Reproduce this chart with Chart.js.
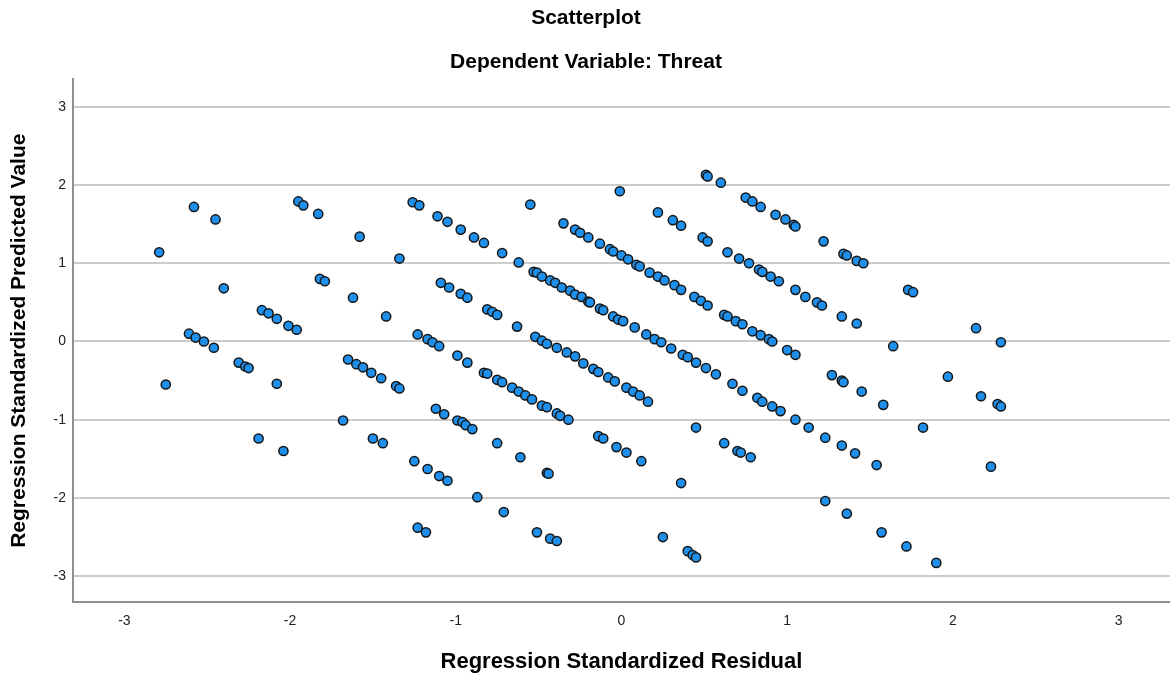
<!DOCTYPE html>
<html>
<head>
<meta charset="utf-8">
<title>Scatterplot</title>
<script src="https://cdn.jsdelivr.net/npm/chart.js@4.4.0/dist/chart.umd.min.js"></script>
<style>
  html, body { margin: 0; padding: 0; background: #fff; }
  #wrap { width: 1176px; height: 675px; }
</style>
</head>
<body>
<div id="wrap"><canvas id="scatter"></canvas></div>
<script>
// Regression Standardized Residual (x) / Predicted Value (y)
const residuals = [
  -2.79, -2.58, -2.45, -2.40, -2.61, -2.57, -2.52, -2.46, -2.17, -2.13,
  -2.08, -2.01, -1.96, -1.95, -1.92, -1.83, -1.82, -1.79, -1.62, -2.31,
  -2.27, -2.25, -2.75, -2.08, -1.68, -2.19, -2.04,
  -1.58, -1.34, -1.26, -1.22, -1.11, -1.05, -0.97, -0.89, -0.83, -0.72,
  -0.62, -0.55, -0.53, -0.51, -0.48, -0.43, -0.40, -0.36, -0.31, -0.28,
  -0.24, -0.20, -0.19, -0.13, -0.11, -0.05, -0.02, -0.35, -0.28, -0.25,
  -0.20, -0.13, -0.07, -0.05, -0.01, -1.42, -1.09, -1.04, -0.97, -0.93,
  -0.81, -0.78, -0.75, -0.63, -0.52, -0.48, -0.45, -0.39, -0.33, -0.28,
  -1.23, -1.17, -1.14, -1.10, -1.65, -0.99,
  -1.60, -1.56, -1.51, -1.45, -1.36, -1.34, -1.50, -1.44, -1.25, -1.17,
  -1.10, -1.05, -1.23, -1.18, -0.87, -0.71, -0.51, -0.43, -0.39, -1.12,
  -1.07, -0.99, -0.96, -0.94, -0.90, -0.75, -0.61, -0.45, -0.44, -0.93,
  -0.83, -0.81, -0.75, -0.72, -0.66, -0.62, -0.58, -0.54, -0.48, -0.45,
  -0.39, -0.37, -0.32, -0.23, -0.17, -0.14, -0.08, -0.04, -0.14, -0.11,
  -0.03,
  0.51, 0.52, 0.60, 0.22, 0.31, 0.36, 0.49, 0.52, 0.75, 0.79,
  0.84, 0.93, 0.99, 1.04, 1.05, 1.22, 1.34, 1.36, 1.42, 1.46,
  0.00, 0.04, 0.09, 0.11, 0.17, 0.22, 0.26, 0.32, 0.36, 0.44,
  0.48, 0.52, 0.62, 0.64, 0.69, 0.73, 0.79, 0.84, 0.89, 0.91,
  1.00, 1.05, 0.64, 0.71, 0.77, 0.83, 0.85, 0.90, 0.95, 1.05,
  1.11, 1.18, 1.21, 1.33, 1.42, 0.01, 0.08, 0.15, 0.20, 0.24,
  0.30, 0.37, 0.40,
  0.45, 0.51, 0.57, 0.03, 0.07, 0.11, 0.16, 1.27, 1.33, 1.34,
  1.45, 1.58, 0.67, 0.73, 0.82, 0.85, 0.91, 0.96, 1.05, 1.13,
  1.23, 1.33, 1.41, 1.54, 0.45, 0.03, 0.12, 0.36, 0.62, 0.70,
  0.72, 0.78, 0.25, 0.40, 0.43, 0.45, 1.23, 1.36, 1.57,
  1.73, 1.76, 2.14, 1.64, 2.29, 1.97, 2.17, 2.27, 2.29, 1.82,
  2.23, 1.72, 1.90
];
const predicted = [
  1.14, 1.72, 1.56, 0.68, 0.10, 0.05, 0.00, -0.08, 0.40, 0.36,
  0.29, 0.20, 0.15, 1.79, 1.74, 1.63, 0.80, 0.77, 0.56, -0.27,
  -0.32, -0.34, -0.55, -0.54, -1.01, -1.24, -1.40,
  1.34, 1.06, 1.78, 1.74, 1.60, 1.53, 1.43, 1.33, 1.26, 1.13,
  1.01, 1.75, 0.89, 0.88, 0.83, 0.78, 0.75, 0.69, 0.65, 0.60,
  0.57, 0.51, 0.50, 0.42, 0.40, 0.32, 0.28, 1.51, 1.43, 1.39,
  1.33, 1.25, 1.18, 1.15, 1.92, 0.32, 0.75, 0.69, 0.61, 0.56,
  0.41, 0.38, 0.34, 0.19, 0.06, 0.01, -0.03, -0.08, -0.14, -0.19,
  0.09, 0.03, -0.01, -0.06, -0.23, -0.18,
  -0.29, -0.33, -0.40, -0.47, -0.57, -0.60, -1.24, -1.30, -1.53, -1.63,
  -1.72, -1.78, -2.38, -2.44, -1.99, -2.18, -2.44, -2.52, -2.55, -0.86,
  -0.93, -1.01, -1.03, -1.07, -1.12, -1.30, -1.48, -1.68, -1.69, -0.27,
  -0.40, -0.41, -0.49, -0.52, -0.59, -0.64, -0.69, -0.74, -0.82, -0.84,
  -0.92, -0.95, -1.00, -0.28, -0.35, -0.39, -0.46, -0.51, -1.21, -1.24,
  -1.35,
  2.13, 2.11, 2.03, 1.65, 1.55, 1.48, 1.33, 1.28, 1.84, 1.79,
  1.72, 1.62, 1.56, 1.49, 1.47, 1.28, 1.12, 1.10, 1.03, 1.00,
  1.10, 1.05, 0.98, 0.96, 0.88, 0.83, 0.78, 0.72, 0.66, 0.57,
  0.52, 0.46, 0.34, 0.32, 0.26, 0.22, 0.13, 0.08, 0.03, 0.00,
  -0.11, -0.17, 1.14, 1.06, 1.00, 0.92, 0.89, 0.83, 0.77, 0.66,
  0.57, 0.50, 0.46, 0.32, 0.23, 0.26, 0.18, 0.09, 0.03, -0.01,
  -0.09, -0.17, -0.20,
  -0.27, -0.34, -0.42, -0.59, -0.64, -0.69, -0.77, -0.43, -0.50, -0.52,
  -0.64, -0.81, -0.54, -0.63, -0.72, -0.77, -0.83, -0.89, -1.00, -1.10,
  -1.23, -1.33, -1.43, -1.58, -1.10, -1.42, -1.53, -1.81, -1.30, -1.40,
  -1.42, -1.48, -2.50, -2.68, -2.73, -2.76, -2.04, -2.20, -2.44,
  0.66, 0.63, 0.17, -0.06, -0.01, -0.45, -0.70, -0.80, -0.83, -1.10,
  -1.60, -2.62, -2.83
];
const xTicks = [-3, -2, -1, 0, 1, 2, 3];
const yTicks = [-3, -2, -1, 0, 1, 2, 3];

const points = residuals.map((x, i) => ({ x: x, y: predicted[i] }));
const fontFamily = "'Liberation Sans', Arial, sans-serif";

new Chart(document.getElementById("scatter"), {
  type: "scatter",
  data: {
    datasets: [{
      data: points,
      pointRadius: 4.6,
      pointHoverRadius: 4.6,
      pointBackgroundColor: "#1e90ec",
      pointBorderColor: "#161616",
      pointBorderWidth: 1.5
    }]
  },
  options: {
    responsive: true,
    maintainAspectRatio: false,
    animation: false,
    events: [],
    layout: { padding: { left: 0, right: 4, top: 0, bottom: 0 } },
    plugins: {
      legend: { display: false },
      tooltip: { enabled: false },
      title: {
        display: true,
        text: "Scatterplot",
        color: "#000",
        font: { family: fontFamily, size: 21, weight: "bold" },
        padding: { top: 6, bottom: 0 }
      },
      subtitle: {
        display: true,
        text: "Dependent Variable: Threat",
        color: "#000",
        font: { family: fontFamily, size: 21, weight: "bold" },
        padding: { top: 18, bottom: 5 }
      }
    },
    scales: {
      x: {
        type: "linear",
        min: -3.31,
        max: 3.31,
        afterBuildTicks: scale => { scale.ticks = xTicks.map(v => ({ value: v })); },
        afterFit: scale => { scale.height = 73; },
        grid: { display: false, drawTicks: false },
        border: { display: true, color: "#8e8e8e", width: 2 },
        ticks: {
          color: "#222",
          padding: 11,
          font: { family: fontFamily, size: 14 }
        },
        title: {
          display: true,
          text: "Regression Standardized Residual",
          color: "#000",
          font: { family: fontFamily, size: 22, weight: "bold" },
          padding: { top: 0, bottom: 0 }
        }
      },
      y: {
        type: "linear",
        min: -3.33,
        max: 3.35,
        afterBuildTicks: scale => { scale.ticks = yTicks.map(v => ({ value: v })); },
        afterFit: scale => { scale.width = 73; },
        grid: { color: "#cccccc", lineWidth: 2, drawTicks: false },
        border: { display: true, color: "#8e8e8e", width: 2 },
        ticks: {
          color: "#222",
          padding: 7,
          font: { family: fontFamily, size: 14 }
        },
        title: {
          display: true,
          text: "Regression Standardized Predicted Value",
          color: "#000",
          font: { family: fontFamily, size: 21, weight: "bold" },
          padding: { top: 7, bottom: 0 }
        }
      }
    }
  }
});
</script>
</body>
</html>
